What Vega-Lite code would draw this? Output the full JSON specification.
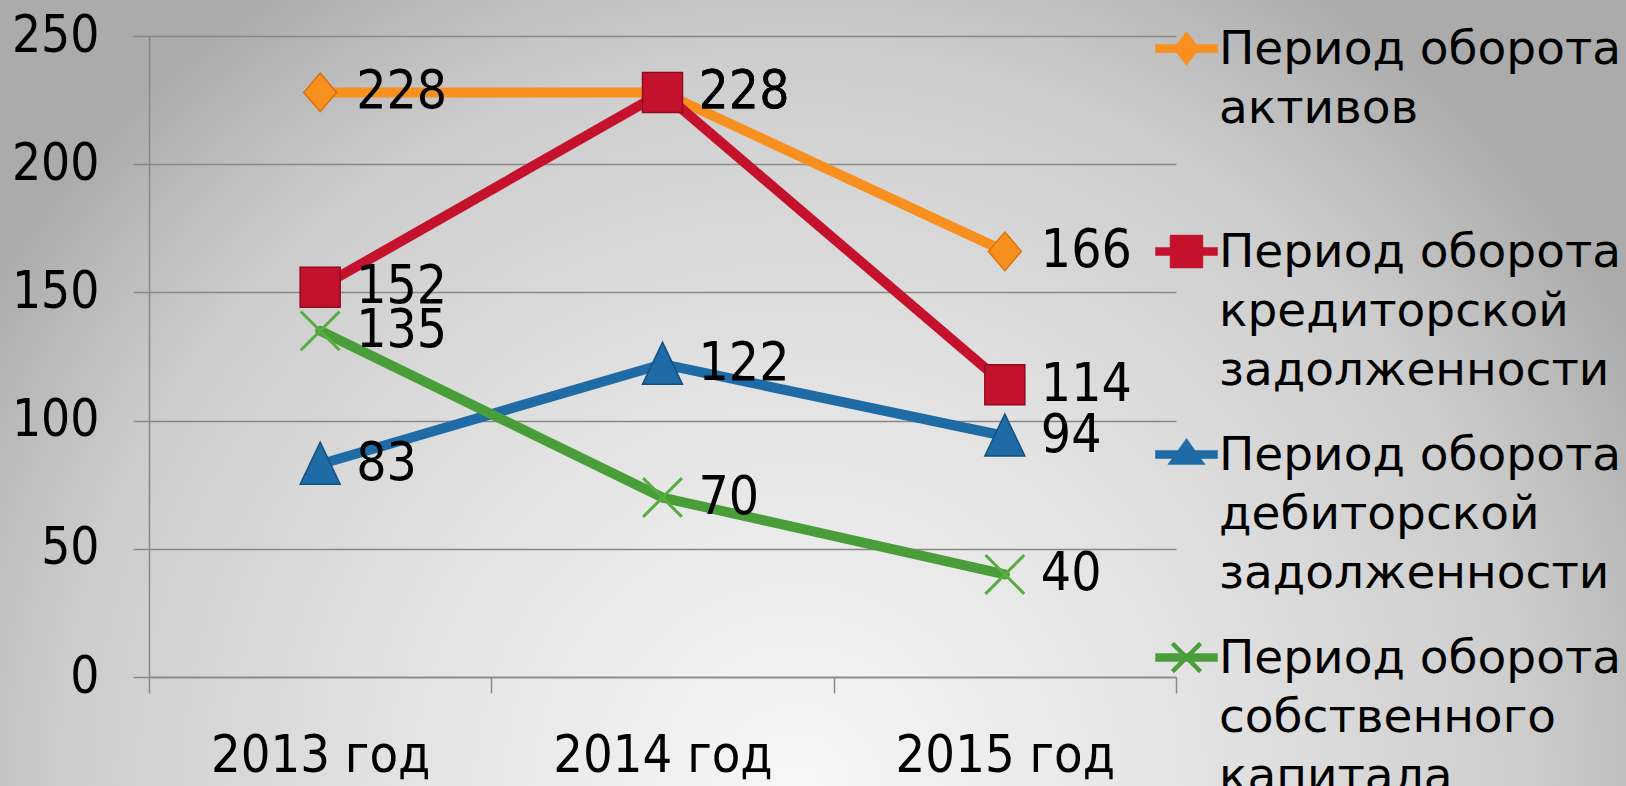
{
  "$schema": "https://vega.github.io/schema/vega-lite/v6.json",
  "width": 1626,
  "height": 786,
  "autosize": {"type": "none"},
  "padding": 0,
  "background": "#C8C8C8",
  "config": {
    "view": {
      "stroke": null,
      "fill": {
        "gradient": "radial",
        "x1": 0.49, "y1": 0.742, "r1": 0,
        "x2": 0.49, "y2": 0.742, "r2": 0.584,
        "stops": [
          {"offset": 0, "color": "#F7F7F7"},
          {"offset": 0.42, "color": "#E3E3E3"},
          {"offset": 0.77, "color": "#CDCDCD"},
          {"offset": 0.9, "color": "#BBBBBB"},
          {"offset": 1, "color": "#ABABAB"}
        ]
      }
    }
  },
  "data": {
    "values": [
      {"year": "2013 год", "series": "Период оборота активов", "value": 228},
      {"year": "2014 год", "series": "Период оборота активов", "value": 228},
      {"year": "2015 год", "series": "Период оборота активов", "value": 166},
      {"year": "2013 год", "series": "Период оборота кредиторской задолженности", "value": 152},
      {"year": "2014 год", "series": "Период оборота кредиторской задолженности", "value": 228},
      {"year": "2015 год", "series": "Период оборота кредиторской задолженности", "value": 114},
      {"year": "2013 год", "series": "Период оборота дебиторской задолженности", "value": 83},
      {"year": "2014 год", "series": "Период оборота дебиторской задолженности", "value": 122},
      {"year": "2015 год", "series": "Период оборота дебиторской задолженности", "value": 94},
      {"year": "2013 год", "series": "Период оборота собственного капитала", "value": 135},
      {"year": "2014 год", "series": "Период оборота собственного капитала", "value": 70},
      {"year": "2015 год", "series": "Период оборота собственного капитала", "value": 40}
    ]
  },
  "encoding": {
    "x": {
      "field": "year", "type": "nominal", "bandPosition": 0.5,
      "scale": {"type": "band", "paddingInner": 0, "paddingOuter": 0, "range": [149, 1176]},
      "axis": {
        "title": null, "labelAngle": 0, "tickBand": "extent", "offset": -109,
        "tickSize": 16, "tickColor": "#888888", "tickWidth": 1.5,
        "domainColor": "#888888", "domainWidth": 1.5,
        "labelFont": "DejaVu Sans Condensed, DejaVu Sans", "labelFontSize": 52,
        "labelColor": "#000000", "labelPadding": 37, "labelLimit": 0
      }
    },
    "y": {
      "field": "value", "type": "quantitative",
      "scale": {"domain": [0, 250], "nice": false, "range": [677, 36]},
      "axis": {
        "title": null, "values": [0, 50, 100, 150, 200, 250], "offset": -149,
        "grid": true, "gridColor": "#888888", "gridWidth": 1.5,
        "tickSize": 16, "tickColor": "#888888", "tickWidth": 1.5,
        "domainColor": "#888888", "domainWidth": 1.5,
        "labelFont": "DejaVu Sans Condensed, DejaVu Sans", "labelFontSize": 51,
        "labelColor": "#000000", "labelPadding": 34
      }
    },
    "color": {
      "field": "series", "type": "nominal",
      "scale": {
        "domain": ["Период оборота активов", "Период оборота кредиторской задолженности", "Период оборота дебиторской задолженности", "Период оборота собственного капитала"],
        "range": ["#F7901E", "#C4122C", "#1E6BA6", "#4A9E3A"]
      },
      "legend": {
        "title": null, "orient": "none", "legendX": 1155, "legendY": 17,
        "padding": 0, "gridAlign": "all", "rowPadding": 29,
        "symbolSize": 3844, "symbolOffset": 0, "labelOffset": 1,
        "labelFont": "DejaVu Sans", "labelFontSize": 47, "labelColor": "#000000",
        "labelLimit": 0, "labelBaseline": "alphabetic",
        "labelExpr": "split(replace(replace(datum.label, / /g, '|'), 'Период|оборота', 'Период оборота'), '|')",
        "encode": {
          "symbols": {
            "update": {
              "shape": {"signal": "['M-1,-0.13H1V0.13H-1Z M0,-0.55L0.42,0L0,0.55L-0.42,0Z', 'M-1,-0.13H1V0.13H-1Z M-0.53,-0.53H0.53V0.53H-0.53Z', 'M-1,-0.13H1V0.13H-1Z M0,-0.52L0.6,0.32L-0.6,0.32Z', 'M-1,-0.13H1V0.13H-1Z M-0.404,-0.496L0.496,0.404L0.404,0.496L-0.496,-0.404Z M0.496,-0.404L-0.404,0.496L-0.496,0.404L0.404,-0.496Z'][datum.index]"},
              "fill": {"signal": "scale('color', datum.value)"},
              "stroke": {"signal": "scale('color', datum.value)"},
              "strokeWidth": {"value": 0.5},
              "opacity": {"value": 1},
              "fillOpacity": {"value": 1}
            }
          },
          "labels": {
            "update": {
              "dy": {"value": 15},
              "lineHeight": {"value": 59}
            }
          }
        }
      }
    }
  },
  "layer": [
    {
      "mark": {"type": "line", "strokeWidth": 10, "strokeCap": "round", "strokeJoin": "round"}
    },
    {
      "transform": [{"filter": {"field": "series", "equal": "Период оборота активов"}}],
      "mark": {"type": "point", "filled": true, "opacity": 1, "size": 1089, "shape": "M0,-1.17L1,0L0,1.17L-1,0Z", "stroke": "#D9720E", "strokeWidth": 1.5}
    },
    {
      "transform": [{"filter": {"field": "series", "equal": "Период оборота кредиторской задолженности"}}],
      "mark": {"type": "point", "filled": true, "opacity": 1, "size": 1600, "shape": "M-1,-1H1V1H-1Z", "stroke": "#8E0C1F", "strokeWidth": 1.5}
    },
    {
      "transform": [{"filter": {"field": "series", "equal": "Период оборота дебиторской задолженности"}}],
      "mark": {"type": "point", "filled": true, "opacity": 1, "size": 1600, "shape": "M0,-1.1L1,1L-1,1Z", "stroke": "#15507F", "strokeWidth": 1.5}
    },
    {
      "transform": [{"filter": {"field": "series", "equal": "Период оборота собственного капитала"}}],
      "mark": {"type": "point", "filled": true, "opacity": 1, "size": 1600, "shape": "M-0.917,-1.023L1.023,0.917L0.917,1.023L-1.023,-0.917Z M1.023,-0.917L-0.917,1.023L-1.023,0.917L0.917,-1.023Z"},
      "encoding": {"color": {"value": "#58AC42"}}
    },
    {
      "mark": {"type": "text", "align": "left", "baseline": "middle", "dx": 36, "font": "DejaVu Sans Condensed, DejaVu Sans", "fontSize": 53, "color": "#000000"},
      "encoding": {
        "text": {"field": "value", "type": "quantitative"},
        "color": {"value": "#000000"}
      }
    }
  ]
}
